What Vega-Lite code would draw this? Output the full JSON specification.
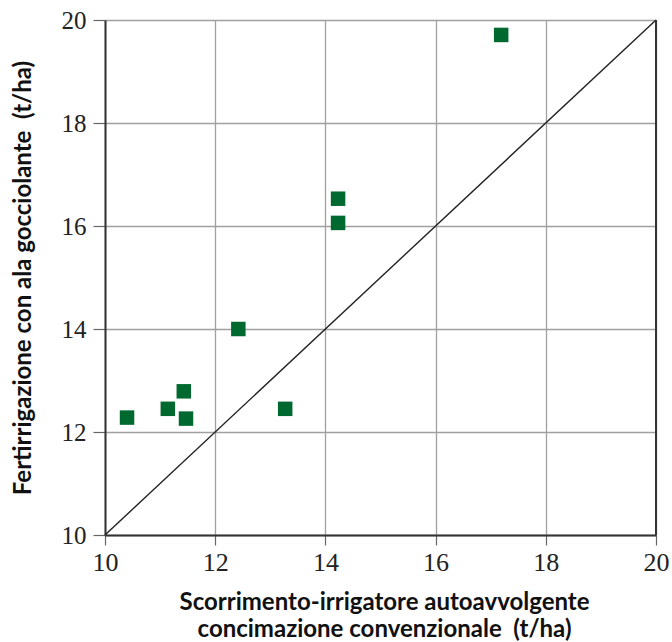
{
  "$schema": "https://vega.github.io/schema/vega-lite/v6.json",
  "width": 551,
  "height": 515,
  "autosize": {"type": "none"},
  "padding": {"left": 105, "top": 20, "right": 16, "bottom": 107},
  "background": "white",
  "config": {
    "view": {"stroke": null},
    "axis": {
      "grid": true,
      "gridColor": "#a0a0a0",
      "gridWidth": 1.3,
      "domainColor": "#333333",
      "domainWidth": 2,
      "tickColor": "#666666",
      "tickWidth": 1.2,
      "labelFont": "Liberation Sans Narrow",
      "labelColor": "#222222",
      "labelFlush": false,
      "labelOverlap": false,
      "titleFont": "Lato",
      "titleFontSize": 24,
      "titleFontWeight": "bold",
      "titleColor": "#111111"
    },
    "axisX": {"tickSize": 10, "labelPadding": 4, "labelFontSize": 26, "titlePadding": 15, "titleLineHeight": 27, "titleX": 279},
    "axisY": {"tickSize": 12, "labelPadding": 7, "labelFontSize": 25, "titlePadding": 26}
  },
  "layer": [
    {
      "data": {"values": [{"x": 10, "y": 10}, {"x": 20, "y": 20}]},
      "mark": {"type": "line", "color": "#222222", "strokeWidth": 1.4},
      "encoding": {
        "x": {"field": "x", "type": "quantitative", "scale": {"domain": [10, 20], "nice": false, "zero": false},
          "axis": {"values": [10, 12, 14, 16, 18, 20], "title": ["Scorrimento-irrigatore autoavvolgente", "concimazione convenzionale \u00a0(t/ha)"]}},
        "y": {"field": "y", "type": "quantitative", "scale": {"domain": [10, 20], "nice": false, "zero": false},
          "axis": {"values": [10, 12, 14, 16, 18, 20], "title": "Fertirrigazione con ala gocciolante \u00a0(t/ha)"}}
      }
    },
    {
      "data": {"values": [{"x": 20}]},
      "mark": {"type": "rule", "color": "#333333", "strokeWidth": 2},
      "encoding": {
        "x": {"field": "x", "type": "quantitative"}
      }
    },
    {
      "data": {"values": [
        {"x": 10.40, "y": 12.28},
        {"x": 11.14, "y": 12.45},
        {"x": 11.43, "y": 12.79},
        {"x": 11.47, "y": 12.26},
        {"x": 12.42, "y": 14.0},
        {"x": 13.27, "y": 12.45},
        {"x": 14.23, "y": 16.06},
        {"x": 14.23, "y": 16.53},
        {"x": 17.19, "y": 19.71}
      ]},
      "mark": {"type": "point", "shape": "square", "filled": true, "size": 210, "color": "#00692f", "opacity": 1},
      "encoding": {
        "x": {"field": "x", "type": "quantitative"},
        "y": {"field": "y", "type": "quantitative"}
      }
    }
  ]
}
